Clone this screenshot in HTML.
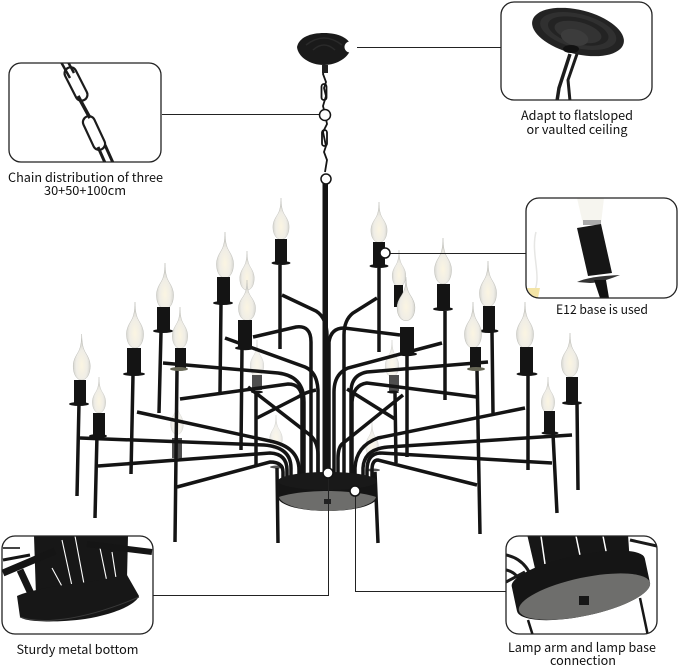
<!DOCTYPE html>
<html><head><meta charset="utf-8">
<style>
html,body{margin:0;padding:0;background:#fff;width:679px;height:667px;overflow:hidden}
svg{display:block}
text{font-family:"Noto Sans CJK SC","Liberation Sans",sans-serif;font-size:12.5px;fill:#111;text-anchor:middle}
</style></head><body>
<svg width="679" height="667" viewBox="0 0 679 667" xmlns="http://www.w3.org/2000/svg">
<defs>
<radialGradient id="bg" cx="50%" cy="68%" r="55%">
<stop offset="0" stop-color="#fbf5e2"/><stop offset=".6" stop-color="#efede6"/><stop offset="1" stop-color="#cfcfca"/>
</radialGradient>
<g id="b"><path d="M0 0C.3 9 1 14 4 19C6.500 23 8.500 27 8.500 32C8.500 41 4.500 46 0 46C-4.500 46 -8.500 41 -8.500 32C-8.500 27 -6.500 23 -4 19C-1 14 -.3 9 0 0Z" fill="url(#bg)" stroke="#bdbdb7" stroke-width=".5"/></g>
<clipPath id="c1"><rect x="501" y="2" width="151" height="98" rx="13"/></clipPath>
<clipPath id="c2"><rect x="9" y="63" width="152" height="99" rx="12"/></clipPath>
<clipPath id="c3"><rect x="526" y="198" width="151" height="100" rx="13"/></clipPath>
<clipPath id="c4"><rect x="2" y="536" width="151" height="98" rx="13"/></clipPath>
<clipPath id="c5"><rect x="506" y="536" width="151" height="98" rx="13"/></clipPath>
</defs>

<!-- back candles -->
<g fill="#141414" stroke="#141414">
<g opacity=".75">
<use href="#b" transform="translate(177,400) scale(.75)"/>
<rect x="172" y="438" width="10" height="20" stroke="none"/>
<use href="#b" transform="translate(257,340) scale(.8)"/>
<rect x="252" y="375" width="10" height="15" stroke="none"/>
<use href="#b" transform="translate(276,415) scale(.75)"/>
<use href="#b" transform="translate(392,340) scale(.8)"/>
<rect x="389" y="375" width="10" height="16" stroke="none"/>
<use href="#b" transform="translate(372,422) scale(.75)"/>
</g>
<ellipse cx="257" cy="392" rx="6" ry="1.500" stroke="none"/>
<ellipse cx="393" cy="392" rx="6" ry="1.500" stroke="none"/>
<ellipse cx="277" cy="467" rx="7" ry="1.500" stroke="none" fill="#555"/>
<ellipse cx="373" cy="470" rx="7" ry="1.500" stroke="none" fill="#555"/>
<use href="#b" transform="translate(247,251) scale(.85)"/>
<use href="#b" transform="translate(399,250) scale(.8)"/>
<rect x="394" y="285" width="9" height="22" stroke="none"/>
</g>

<!-- rods and arms -->
<g fill="none" stroke="#141414" stroke-width="3.500">
<path d="M79 403L77 496M97 435L95 518M133 375L131 474M161 332L159 413M177 370L175 542M221 303L220 392M242 348L241 450M280 265L280 349M256 392L256 465M277 468L278 543"/>
<path d="M379 268L379 352M407 355L407 457M445 311L445 400M492 332L493 413M477 370L480 534M528 375L528 470M553 434L557 513M577 403L578 490M395 393L396 463M375 472L378 543"/>
<path d="M282 295L316 311Q327 318 327 336V475"/>
<path d="M253 337L296 327Q311 325 311 342V475"/>
<path d="M225 338L305 367Q317 372 318 390V475"/>
<path d="M163 363L278 373Q304 376 304 402V475"/>
<path d="M180 399L288 384Q302 384 302 400V475"/>
<path d="M257 418L298 397Q306 392 316 390"/>
<path d="M248 387L310 435Q318 442 318 455V475"/>
<path d="M137 412L270 441Q299 447 299 470V476"/>
<path d="M80 438L264 445Q291 447 291 468V477"/>
<path d="M98 466L270 453Q287 454 287 470V478"/>
<path d="M177 487L270 462Q283 462 283 472V480"/>
<path d="M377 298L353 313Q344 320 344 335V475"/>
<path d="M400 335L344 328Q331 328 329 342V475"/>
<path d="M442 343L348 368Q334 374 334 392V475"/>
<path d="M488 362L367 372Q351 375 351 392V475"/>
<path d="M477 397L367 383Q353 385 352 402V475"/>
<path d="M347 389L395 419"/>
<path d="M403 395L342 444Q338 448 338 458V475"/>
<path d="M525 408L378 438Q356 446 355 468V476"/>
<path d="M572 435L388 447Q364 449 363 468V477"/>
<path d="M552 463L380 453Q367 454 367 470V478"/>
<path d="M477 485L378 460Q372 460 372 470V480"/>
</g>

<!-- front candles -->
<g fill="#141414">
<use href="#b" transform="translate(81.700,334)"/><rect x="74" y="380" width="12" height="23"/><ellipse cx="79" cy="404" rx="10" ry="2"/>
<use href="#b" transform="translate(99,377) scale(.78)"/><rect x="93" y="413" width="12" height="22"/><ellipse cx="98" cy="436" rx="9" ry="2"/>
<use href="#b" transform="translate(135,302)"/><rect x="127" y="348" width="14" height="25"/><ellipse cx="134" cy="374" rx="11" ry="2"/>
<use href="#b" transform="translate(165,263)"/><rect x="157" y="307" width="13" height="23"/><ellipse cx="163" cy="331" rx="10" ry="2"/>
<use href="#b" transform="translate(180,307) scale(.9)"/><rect x="175" y="348" width="11" height="20"/><ellipse cx="179" cy="369" rx="9" ry="2" fill="#665"/>
<use href="#b" transform="translate(225,232)"/><rect x="217" y="277" width="13" height="25"/><ellipse cx="223" cy="303" rx="10" ry="2"/>
<use href="#b" transform="translate(247,280) scale(1,.88)"/><rect x="238" y="320" width="14" height="27"/><ellipse cx="245" cy="348" rx="10" ry="2.200"/>
<use href="#b" transform="translate(281,198) scale(.95,.9)"/><rect x="275" y="239" width="12" height="23"/><ellipse cx="281" cy="263" rx="9.500" ry="2"/>
<use href="#b" transform="translate(379,202) scale(.95,.88)"/><rect x="373" y="242" width="12" height="23"/><ellipse cx="379" cy="266" rx="9.500" ry="2"/>
<use href="#b" transform="translate(406,277) scale(1.050,.95)"/><rect x="400" y="327" width="14" height="26"/><ellipse cx="407" cy="354" rx="10" ry="2.200"/>
<use href="#b" transform="translate(443,238)"/><rect x="437" y="284" width="13" height="24"/><ellipse cx="443" cy="309" rx="10" ry="2"/>
<use href="#b" transform="translate(488,261)"/><rect x="483" y="306" width="12" height="24"/><ellipse cx="489" cy="331" rx="9.500" ry="2"/>
<use href="#b" transform="translate(473,302)"/><rect x="470" y="347" width="11" height="21"/><ellipse cx="476" cy="369" rx="9" ry="2" fill="#665"/>
<use href="#b" transform="translate(525,302)"/><rect x="520" y="347" width="13" height="26"/><ellipse cx="527" cy="374" rx="10.500" ry="2"/>
<use href="#b" transform="translate(548,377) scale(.78)"/><rect x="544" y="411" width="11" height="21"/><ellipse cx="550" cy="433" rx="8.500" ry="1.800"/>
<use href="#b" transform="translate(570,333) scale(1,.95)"/><rect x="566" y="377" width="12" height="25"/><ellipse cx="572" cy="403" rx="10" ry="2"/>
</g>

<!-- base -->
<path d="M278 481V497C278 505 300 511 327.500 511C355 511 377 505 377 497V481Z" fill="#151515"/>
<ellipse cx="327.500" cy="481" rx="49.500" ry="9" fill="#191919"/>
<path d="M279 497C290 493 310 491 327.500 491C345 491 365 493 376 497C374 505 352 511 327.500 511C303 511 281 505 279 497Z" fill="#6d6d6b"/>
<rect x="324" y="499" width="7" height="5" fill="#222"/>

<!-- central rod, chain, canopy -->
<rect x="322.500" y="183" width="5.500" height="292" fill="#141414"/>
<g fill="none" stroke="#141414" stroke-width="1.800">
<path d="M325 66L323 74L326 82L324 88L326 96L323 106L325 114L327 124L323 132L326 146L324 152L327 160L325 172"/>
<rect x="321.500" y="84" width="5" height="16" rx="2.500"/>
<rect x="322" y="130" width="5" height="16" rx="2.500"/>
</g>
<rect x="322" y="65" width="6" height="8" fill="#222"/>
<path d="M297 47C299 37 311 33 324 33C338 33 350 38 351 47C350 57 337 65 324 65C310 65 298 57 297 47Z" fill="#1a1a1a"/>
<path d="M306 45Q324 31 342 45M313 50Q324 40 335 50" fill="none" stroke="#2a2a2a" stroke-width="1.500"/>

<!-- leader lines -->
<g fill="none" stroke="#222" stroke-width="1">
<path d="M357 47.500H501M162 114.500H319M390 253.500H526M328.500 478V595.500H153M355.500 496V591.500H506"/>
</g>
<g fill="#fff" stroke="#141414" stroke-width="1.500">
<circle cx="350" cy="47" r="5.500" stroke="none"/>
<circle cx="325" cy="115" r="5.500"/>
<circle cx="326" cy="179" r="5"/>
<circle cx="385" cy="253" r="5"/>
<circle cx="328" cy="473" r="5"/>
<circle cx="355" cy="491" r="5"/>
</g>

<!-- inset 1: canopy -->
<g clip-path="url(#c1)">
<rect x="501" y="2" width="151" height="98" fill="#fff"/>
<g transform="rotate(14 578 32)">
<ellipse cx="578" cy="32" rx="47" ry="22" fill="#232323"/>
<ellipse cx="578" cy="31" rx="39" ry="17" fill="#303030"/>
<ellipse cx="578" cy="31" rx="31" ry="13" fill="#232323"/>
<ellipse cx="578" cy="32" rx="24" ry="10" fill="#333"/>
<ellipse cx="576" cy="38" rx="14" ry="8" fill="#3c3c3c"/>
</g>
<ellipse cx="571" cy="49" rx="8" ry="4" fill="#111"/>
<path d="M570 54L559 88L557 101" fill="none" stroke="#1c1c1c" stroke-width="3.500"/>
<path d="M577 54L568 80L570 101" fill="none" stroke="#1c1c1c" stroke-width="3"/>
</g>
<rect x="501" y="2" width="151" height="98" rx="13" fill="none" stroke="#222" stroke-width="1.300"/>
<text x="577" y="120" textLength="112" lengthAdjust="spacingAndGlyphs">Adapt to flatsloped</text>
<text x="577" y="134" textLength="101" lengthAdjust="spacingAndGlyphs">or vaulted ceiling</text>

<!-- inset 2: chain -->
<g clip-path="url(#c2)">
<rect x="9" y="63" width="152" height="99" fill="#fff"/>
<g fill="none" stroke="#1c1c1c">
<path d="M61 62L70 78M68 62L74 73" stroke-width="2.500"/>
<rect x="-6" y="-18" width="12" height="36" rx="6" transform="translate(76,84) rotate(-27)" stroke-width="2.200"/>
<path d="M78 96L90 118" stroke-width="3.500"/>
<rect x="-6" y="-18" width="12" height="36" rx="6" transform="translate(94,133) rotate(-25)" stroke-width="2.200"/>
<path d="M98 147L106 165M105 145L114 165" stroke-width="3"/>
</g>
</g>
<rect x="9" y="63" width="152" height="99" rx="12" fill="none" stroke="#222" stroke-width="1.300"/>
<text x="85.500" y="182" textLength="155" lengthAdjust="spacingAndGlyphs">Chain distribution of three</text>
<text x="85" y="195" textLength="82" lengthAdjust="spacingAndGlyphs">30+50+100cm</text>

<!-- inset 3: socket -->
<g clip-path="url(#c3)">
<rect x="526" y="198" width="151" height="100" fill="#fff"/>
<path d="M577 198L583 224H601L604 198Z" fill="#f6f5ef"/>
<path d="M532 295C544 280 530 255 536 232" fill="none" stroke="#e6e6e4" stroke-width="1.500"/>
<path d="M527 288H540L538 298H532Z" fill="#f3e4a6"/>
<rect x="583" y="220" width="18" height="5" fill="#aaa"/>
<path d="M577 228L601 224L612 273L588 276Z" fill="#161616"/>
<path d="M577 282Q590 276 620 275Q600 283 590 283Z" fill="#333"/>
<path d="M594 280L606 280L609 298H600Z" fill="#111"/>
</g>
<rect x="526" y="198" width="151" height="100" rx="13" fill="none" stroke="#222" stroke-width="1.300"/>
<text x="602" y="314" textLength="92" lengthAdjust="spacingAndGlyphs">E12 base is used</text>

<!-- inset 4 -->
<g clip-path="url(#c4)">
<rect x="2" y="536" width="151" height="98" fill="#fff"/>
<path d="M3 548H20" stroke="#444" stroke-width="2" fill="none"/>
<path d="M34 536H128L127 578L90 590L36 596Z" fill="#171717"/>
<g stroke="#fff" fill="none" stroke-width="1.100">
<path d="M52 568L64 590M62 540L72 586M75 536L84 584M100 548L107 582M112 552L116 578"/>
</g>
<g stroke="#151515" fill="none">
<path d="M20 570L33 598" stroke-width="7"/>
<path d="M3 573L55 551" stroke-width="7"/>
<path d="M87 544L152 552" stroke-width="6"/>
<path d="M3 560L30 555" stroke-width="3"/>
</g>
<path d="M17 596C30 590 60 585 80 583C105 580 122 575 127 575L139 596C135 606 110 615 85 619C55 623 25 622 20 617Z" fill="#171717"/>
<path d="M20 617C40 624 80 622 139 597" stroke="#3a3a3a" stroke-width="1" fill="none"/>
</g>
<rect x="2" y="536" width="151" height="98" rx="13" fill="none" stroke="#222" stroke-width="1.300"/>
<text x="77.500" y="654" textLength="122" lengthAdjust="spacingAndGlyphs">Sturdy metal bottom</text>

<!-- inset 5 -->
<g clip-path="url(#c5)">
<rect x="506" y="536" width="151" height="98" fill="#fff"/>
<path d="M506 555Q530 560 535 590M506 570Q518 572 525 590M506 582L525 572M630 540L657 546" stroke="#1a1a1a" stroke-width="3" fill="none"/>
<path d="M527 534H628L630 565L540 590Z" fill="#161616"/>
<path d="M541 536L545 564M576 536L581 560M603 536L607 556" stroke="#fff" stroke-width="1.500" fill="none"/>
<path d="M528 620L533 636M640 598L648 636" stroke="#161616" stroke-width="2.500" fill="none"/>
<g transform="rotate(-12 582 590)">
<path d="M514 572A68 17 0 0 1 650 572V597A68 19 0 0 1 514 597Z" fill="#151515"/>
<ellipse cx="583" cy="597" rx="67" ry="19" fill="#6e6e6c"/>
</g>
<rect x="579" y="596" width="10" height="9" fill="#161616"/>
</g>
<rect x="506" y="536" width="151" height="98" rx="13" fill="none" stroke="#222" stroke-width="1.300"/>
<text x="582" y="652" textLength="148" lengthAdjust="spacingAndGlyphs">Lamp arm and lamp base</text>
<text x="583" y="665" textLength="66" lengthAdjust="spacingAndGlyphs">connection</text>
</svg>
</body></html>
